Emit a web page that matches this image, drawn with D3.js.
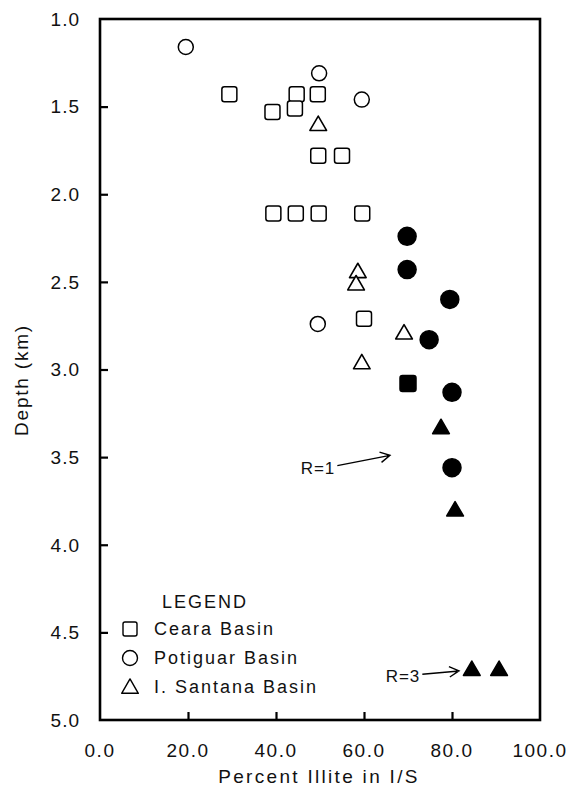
<!DOCTYPE html>
<html>
<head>
<meta charset="utf-8">
<script src="https://cdn.jsdelivr.net/npm/d3@7"></script>
<style>
  html, body { margin: 0; padding: 0; background: #fff; }
  svg text { font-family: "Liberation Sans", Arial, Helvetica, sans-serif; fill: #111; }
</style>
</head>
<body>
<div id="chart"></div>
<script>
// data: [percent illite, depth km]
const cearaOpen = [[29.4,1.43],[39.2,1.53],[44.7,1.43],[44.3,1.51],[49.5,1.43],[49.6,1.78],[55.0,1.78],
                   [39.4,2.11],[44.5,2.11],[49.7,2.11],[59.6,2.11],[60.0,2.71]];
const cearaFilled = [[70.0,3.08]];
const potiguarOpen = [[19.5,1.16],[49.8,1.31],[59.5,1.46],[49.5,2.74]];
const potiguarFilled = [[69.8,2.24],[69.8,2.43],[79.5,2.60],[74.8,2.83],[80.0,3.13],[80.0,3.56]];
const santanaOpen = [[49.6,1.60],[58.6,2.44],[58.2,2.51],[69.1,2.79],[59.5,2.96]];
const santanaFilled = [[77.5,3.33],[80.7,3.80],[84.5,4.71],[90.7,4.71]];

const xTicks = [0, 20, 40, 60, 80, 100];
const yTicks = [1.0, 1.5, 2.0, 2.5, 3.0, 3.5, 4.0, 4.5, 5.0];
const legendItems = [
  { shape: "square", label: "Ceara Basin" },
  { shape: "circle", label: "Potiguar Basin" },
  { shape: "triangle", label: "I. Santana Basin" }
];
// annotations: [label, x, depth, arrow tip x, arrow tip depth]
const notes = [
  ["R=1", 318, 3.56, 390, 3.49],
  ["R=3", 403, 4.75, 459, 4.72]
];

const width = 567, height = 795;
const plotL = 100, plotR = 540, plotT = 19, plotB = 720;

const svg = d3.select("#chart").append("svg")
  .attr("width", width)
  .attr("height", height);

const x = d3.scaleLinear().domain([0, 100]).range([plotL, plotR]);
const y = d3.scaleLinear().domain([1, 5]).range([plotT, plotB]);

// frame
svg.append("rect")
  .attr("x", plotL).attr("y", plotT)
  .attr("width", plotR - plotL).attr("height", plotB - plotT)
  .attr("fill", "none").attr("stroke", "#000").attr("stroke-width", 2.6);

// left axis, ticks pointing inward
const yAxis = svg.append("g")
  .attr("transform", `translate(${plotL},0)`)
  .call(d3.axisRight(y).tickValues(yTicks).tickSize(8).tickFormat(""));
yAxis.select(".domain").remove();
yAxis.selectAll(".tick line")
  .attr("stroke", "#000").attr("stroke-width", 2.2)
  .filter(d => d === 1 || d === 5).remove();

svg.append("g").selectAll("text")
  .data(yTicks)
  .join("text")
  .attr("x", 80)
  .attr("y", d => y(d))
  .attr("dy", "0.36em")
  .attr("text-anchor", "end")
  .attr("font-size", 19)
  .attr("letter-spacing", 1)
  .text(d => d.toFixed(1));

// bottom axis, ticks pointing up
const xAxis = svg.append("g")
  .attr("transform", `translate(0,${plotB})`)
  .call(d3.axisTop(x).tickValues(xTicks).tickSize(8).tickFormat(""));
xAxis.select(".domain").remove();
xAxis.selectAll(".tick line")
  .attr("stroke", "#000").attr("stroke-width", 2.2)
  .filter(d => d === 0 || d === 100).remove();

svg.append("g").selectAll("text")
  .data(xTicks)
  .join("text")
  .attr("x", d => x(d))
  .attr("y", 750)
  .attr("dy", "0.36em")
  .attr("text-anchor", "middle")
  .attr("font-size", 19)
  .attr("letter-spacing", 1.5)
  .text(d => d.toFixed(1));

// axis titles
svg.append("text")
  .attr("transform", "translate(21,380) rotate(-90)")
  .attr("dy", "0.36em")
  .attr("text-anchor", "middle")
  .attr("font-size", 19)
  .attr("letter-spacing", 1.8)
  .text("Depth (km)");

svg.append("text")
  .attr("x", 319).attr("y", 776)
  .attr("dy", "0.36em")
  .attr("text-anchor", "middle")
  .attr("font-size", 19)
  .attr("letter-spacing", 2.3)
  .text("Percent Illite in I/S");

// marker helpers
const tri = d3.symbol().type(d3.symbolTriangle).size(120);

function drawSquares(data, filled, s) {
  svg.append("g").selectAll("rect")
    .data(data)
    .join("rect")
    .attr("x", d => x(d[0]) - s / 2)
    .attr("y", d => y(d[1]) - s / 2)
    .attr("width", s).attr("height", s)
    .attr("rx", 2.5)
    .attr("fill", filled ? "#000" : "#fff")
    .attr("stroke", "#000").attr("stroke-width", 1.5);
}
function drawCircles(data, filled, r) {
  svg.append("g").selectAll("circle")
    .data(data)
    .join("circle")
    .attr("cx", d => x(d[0]))
    .attr("cy", d => y(d[1]))
    .attr("r", r)
    .attr("fill", filled ? "#000" : "#fff")
    .attr("stroke", "#000").attr("stroke-width", 1.5);
}
function drawTriangles(data, filled) {
  svg.append("g").selectAll("path")
    .data(data)
    .join("path")
    .attr("d", tri)
    .attr("transform", d => `translate(${x(d[0])},${y(d[1]) + 1.5})`)
    .attr("stroke-linejoin", "round")
    .attr("fill", filled ? "#000" : "#fff")
    .attr("stroke", "#000").attr("stroke-width", 1.6);
}

drawSquares(cearaOpen, false, 15);
drawSquares(cearaFilled, true, 16);
drawCircles(potiguarOpen, false, 7.5);
drawCircles(potiguarFilled, true, 9);
drawTriangles(santanaOpen, false);
drawTriangles(santanaFilled, true);

// annotations with open arrow heads
const notesG = svg.append("g");
notes.forEach(([label, lx, ld, tx, td]) => {
  const ly = y(ld);
  const t = notesG.append("text")
    .attr("x", lx).attr("y", ly)
    .attr("dy", "0.36em")
    .attr("text-anchor", "middle")
    .attr("font-size", 17)
    .attr("letter-spacing", 1)
    .text(label);
  const bb = t.node().getBBox();
  const sx = bb.x + bb.width + 2, sy = ly - 2;
  const ex = tx, ey = y(td);
  const ang = Math.atan2(ey - sy, ex - sx);
  const h = 11, spread = 0.5;
  notesG.append("path")
    .attr("d", `M${sx},${sy}L${ex},${ey}` +
      `M${ex - h * Math.cos(ang - spread)},${ey - h * Math.sin(ang - spread)}L${ex},${ey}` +
      `L${ex - h * Math.cos(ang + spread)},${ey - h * Math.sin(ang + spread)}`)
    .attr("fill", "none").attr("stroke", "#000").attr("stroke-width", 1.4);
});

// legend
svg.append("text")
  .attr("x", 162).attr("y", 602)
  .attr("dy", "0.36em")
  .attr("font-size", 18)
  .attr("letter-spacing", 2)
  .text("LEGEND");

const leg = svg.append("g").selectAll("g")
  .data(legendItems)
  .join("g")
  .attr("transform", (d, i) => `translate(130,${629 + i * 29})`);

leg.filter(d => d.shape === "square").append("rect")
  .attr("x", -7).attr("y", -7).attr("width", 14).attr("height", 14).attr("rx", 2)
  .attr("fill", "#fff").attr("stroke", "#000").attr("stroke-width", 1.4);
leg.filter(d => d.shape === "circle").append("circle")
  .attr("r", 7.5)
  .attr("fill", "#fff").attr("stroke", "#000").attr("stroke-width", 1.4);
leg.filter(d => d.shape === "triangle").append("path")
  .attr("d", tri)
  .attr("transform", "translate(0,1.5)")
  .attr("stroke-linejoin", "round")
  .attr("fill", "#fff").attr("stroke", "#000").attr("stroke-width", 1.4);

leg.append("text")
  .attr("x", 24)
  .attr("dy", "0.36em")
  .attr("font-size", 18)
  .attr("letter-spacing", 2)
  .text(d => d.label);
</script>
</body>
</html>
